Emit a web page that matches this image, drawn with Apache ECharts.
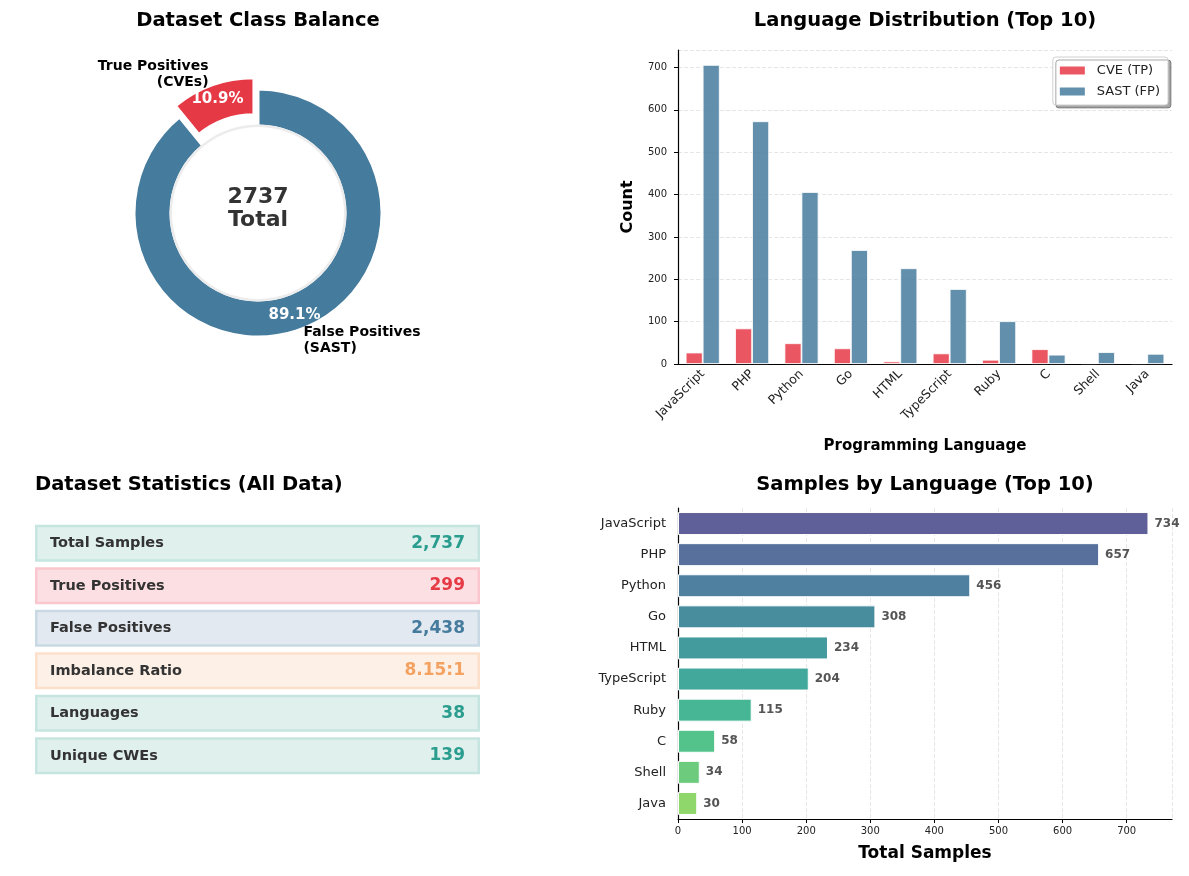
<!DOCTYPE html>
<html>
<head>
<meta charset="utf-8">
<title>Dataset Overview</title>
<script src="https://cdn.jsdelivr.net/npm/echarts@6/dist/echarts.min.js"></script>
<style>
    html, body { margin: 0; padding: 0; background: #fff; }
    #chart { width: 1189px; height: 876px; }
</style>
</head>
<body>
<div id="chart"></div>
<script>
// data
const pieNames = ['True Positives\n(CVEs)', 'False Positives\n(SAST)'];
const pieValues = [299, 2438];
const pieColors = ['#e63946', '#457b9d'];

const languages = ['JavaScript', 'PHP', 'Python', 'Go', 'HTML', 'TypeScript', 'Ruby', 'C', 'Shell', 'Java'];
const cveCounts = [27, 84, 49, 37, 6, 25, 10, 35, 2, 2];
const sastCounts = [706, 573, 406, 269, 226, 177, 101, 22, 28, 24];
const totalSamples = [734, 657, 456, 308, 234, 204, 115, 58, 34, 30];
const totalColors = ['#5f5f99', '#57719c', '#4f809f', '#488d9e', '#449b9d', '#42a89b', '#46b695', '#53c38b', '#6ccb7c', '#8fd76b'];

const statLabels = ['Total Samples', 'True Positives', 'False Positives', 'Imbalance Ratio', 'Languages', 'Unique CWEs'];
const statValues = ['2,737', '299', '2,438', '8.15:1', '38', '139'];
const statColors = ['#2a9d8f', '#e63946', '#457b9d', '#f4a261', '#2a9d8f', '#2a9d8f'];
const statFills = ['#dff0ed', '#fcdfe3', '#e3e9f0', '#fdf0e6', '#dff0ed', '#dff0ed'];
const statBorders = ['#c6e5e0', '#f9c7cd', '#c9d9e4', '#fce0cb', '#c6e5e0', '#c6e5e0'];

const FONT = '"DejaVu Sans", sans-serif';
const chart = echarts.init(document.getElementById('chart'));

const total = pieValues.reduce((a, b) => a + b, 0);
const pieData = pieNames.map((n, i) => ({
    name: n,
    value: pieValues[i],
    selected: i === 0,
    itemStyle: { color: pieColors[i] }
}));

const titleStyle = { fontFamily: FONT, fontSize: 19.5, fontWeight: 'bold', color: '#000' };

const option = {
    animation: false,
    textStyle: { fontFamily: FONT },
    title: [
        { text: 'Dataset Class Balance', left: 253, top: 6, textAlign: 'center', textStyle: titleStyle },
        { text: 'Language Distribution (Top 10)', left: 920, top: 6, textAlign: 'center', textStyle: titleStyle },
        { text: 'Dataset Statistics (All Data)', left: 30, top: 470, textStyle: titleStyle },
        { text: 'Samples by Language (Top 10)', left: 920, top: 470, textAlign: 'center', textStyle: titleStyle }
    ],
    legend: {
        data: ['CVE (TP)', 'SAST (FP)'],
        orient: 'vertical',
        right: 21,
        top: 57,
        icon: 'rect',
        itemWidth: 27,
        itemHeight: 10,
        itemGap: 8,
        padding: [7, 8, 7, 5],
        backgroundColor: '#fff',
        borderColor: '#d0d0d0',
        borderWidth: 1,
        borderRadius: 3,
        shadowColor: 'rgba(0,0,0,0.35)',
        shadowOffsetX: 3,
        shadowOffsetY: 3,
        shadowBlur: 0,
        textStyle: { fontFamily: FONT, fontSize: 13, color: '#222', padding: [0, 0, 0, 6] }
    },
    grid: [
        { left: 678, right: 17, top: 50, bottom: 512 },
        { left: 678, right: 17, top: 508, bottom: 57 },
        { left: 35, top: 522, width: 445, height: 255 }
    ],
    xAxis: [
        {
            gridIndex: 0,
            type: 'category',
            data: languages,
            name: 'Programming Language',
            nameLocation: 'middle',
            nameGap: 75,
            nameTextStyle: { fontFamily: FONT, fontSize: 15, fontWeight: 'bold', color: '#000' },
            axisLine: { lineStyle: { color: '#000', width: 1.2 } },
            axisTick: { alignWithLabel: true, length: 4, lineStyle: { color: '#000' } },
            axisLabel: { rotate: 45, fontSize: 12.5, color: '#222', margin: 8, interval: 0 }
        },
        {
            gridIndex: 1,
            type: 'value',
            min: 0,
            max: 770.7,
            interval: 100,
            name: 'Total Samples',
            nameLocation: 'middle',
            nameGap: 26,
            nameTextStyle: { fontFamily: FONT, fontSize: 17, fontWeight: 'bold', color: '#000' },
            axisLine: { show: true, lineStyle: { color: '#000', width: 1.2 } },
            axisTick: { show: true, length: 4, lineStyle: { color: '#000' } },
            axisLabel: { fontSize: 10, color: '#222', margin: 7, showMaxLabel: false },
            splitLine: { show: true, lineStyle: { color: '#e6e6e6', type: 'dashed' } }
        },
        {
            gridIndex: 2,
            type: 'value',
            min: 0,
            max: 1,
            show: false
        }
    ],
    yAxis: [
        {
            gridIndex: 0,
            type: 'value',
            min: 0,
            max: 741.3,
            interval: 100,
            name: 'Count',
            nameLocation: 'middle',
            nameGap: 42,
            nameTextStyle: { fontFamily: FONT, fontSize: 16, fontWeight: 'bold', color: '#000' },
            axisLine: { show: true, lineStyle: { color: '#000', width: 1.2 } },
            axisTick: { show: true, length: 4, lineStyle: { color: '#000' } },
            axisLabel: { fontSize: 10, color: '#222', margin: 11, showMaxLabel: false },
            splitLine: { show: true, lineStyle: { color: '#e6e6e6', type: 'dashed' } }
        },
        {
            gridIndex: 1,
            type: 'category',
            data: languages,
            inverse: true,
            axisLine: { lineStyle: { color: '#000', width: 1.2 } },
            axisTick: { alignWithLabel: true, length: 4, lineStyle: { color: '#000' } },
            axisLabel: { fontSize: 13, color: '#222', margin: 12, interval: 0 }
        },
        {
            gridIndex: 2,
            type: 'category',
            data: statLabels,
            inverse: true,
            show: false
        }
    ],
    series: [
        // donut ring with percentages
        {
            type: 'pie',
            center: [258, 213],
            radius: [87, 124],
            startAngle: 90,
            clockwise: false,
            selectedMode: 'single',
            selectedOffset: 12,
            avoidLabelOverlap: false,
            emphasis: { disabled: true },
            itemStyle: { borderColor: '#fff', borderWidth: 3 },
            label: {
                position: 'inside',
                formatter: p => p.percent.toFixed(1) + '%',
                color: '#fff',
                fontSize: 15,
                fontWeight: 'bold',
                fontFamily: FONT
            },
            labelLine: { show: false },
            data: pieData
        },
        // same slices, transparent, carrying the outside names
        {
            type: 'pie',
            center: [258, 213],
            radius: [87, 124],
            startAngle: 90,
            clockwise: false,
            selectedMode: 'single',
            selectedOffset: 12,
            avoidLabelOverlap: false,
            silent: true,
            emphasis: { disabled: true },
            itemStyle: { color: 'rgba(0,0,0,0)', borderWidth: 0 },
            label: {
                position: 'outside',
                formatter: p => p.name,
                color: '#000',
                fontSize: 14,
                fontWeight: 'bold',
                lineHeight: 16,
                fontFamily: FONT,
                distanceToLabelLine: 0
            },
            labelLine: { show: false, length: 11, length2: 0 },
            data: pieData.map(d => ({ name: d.name, value: d.value, selected: d.selected }))
        },
        // inner circle edge + centre text
        {
            type: 'pie',
            center: [258, 213],
            radius: [86, 88.5],
            silent: true,
            emphasis: { disabled: true },
            itemStyle: { color: '#ececec' },
            label: {
                position: 'center',
                formatter: () => total + '\nTotal',
                color: '#333',
                fontSize: 22,
                fontWeight: 'bold',
                lineHeight: 23,
                offset: [0, -4],
                fontFamily: FONT
            },
            labelLine: { show: false },
            data: [{ value: 1, name: 'total' }]
        },
        // grouped bars
        {
            name: 'CVE (TP)',
            type: 'bar',
            xAxisIndex: 0,
            yAxisIndex: 0,
            data: cveCounts,
            barWidth: 17,
            barGap: '0%',
            itemStyle: { color: 'rgba(230,57,70,0.85)', borderColor: '#fff', borderWidth: 0.8 }
        },
        {
            name: 'SAST (FP)',
            type: 'bar',
            xAxisIndex: 0,
            yAxisIndex: 0,
            data: sastCounts,
            barWidth: 17,
            barGap: '0%',
            itemStyle: { color: 'rgba(69,123,157,0.85)', borderColor: '#fff', borderWidth: 0.8 }
        },
        // horizontal totals
        {
            type: 'bar',
            xAxisIndex: 1,
            yAxisIndex: 1,
            barWidth: 23,
            data: totalSamples.map((v, i) => ({ value: v, itemStyle: { color: totalColors[i] } })),
            itemStyle: { borderColor: '#fff', borderWidth: 1 },
            label: {
                show: true,
                position: 'right',
                distance: 6,
                fontSize: 12,
                fontWeight: 'bold',
                color: '#555',
                fontFamily: FONT
            }
        },
        // stats panel: boxes with labels
        {
            type: 'bar',
            xAxisIndex: 2,
            yAxisIndex: 2,
            barWidth: 37,
            silent: true,
            data: statLabels.map((l, i) => ({
                value: 1,
                itemStyle: { color: statFills[i], borderColor: statBorders[i], borderWidth: 2.5 }
            })),
            label: {
                show: true,
                position: 'insideLeft',
                distance: 15,
                formatter: p => p.name,
                fontSize: 14.5,
                fontWeight: 'bold',
                color: '#333',
                fontFamily: FONT
            }
        },
        // stats panel: values on the right
        {
            type: 'bar',
            xAxisIndex: 2,
            yAxisIndex: 2,
            barWidth: 37,
            barGap: '-100%',
            silent: true,
            data: statValues.map((v, i) => ({
                value: 1,
                label: { formatter: v, color: statColors[i] }
            })),
            itemStyle: { color: 'rgba(0,0,0,0)' },
            label: {
                show: true,
                position: 'insideRight',
                distance: 15,
                fontSize: 17,
                fontWeight: 'bold',
                fontFamily: FONT
            }
        }
    ]
};

chart.setOption(option);
</script>
</body>
</html>
